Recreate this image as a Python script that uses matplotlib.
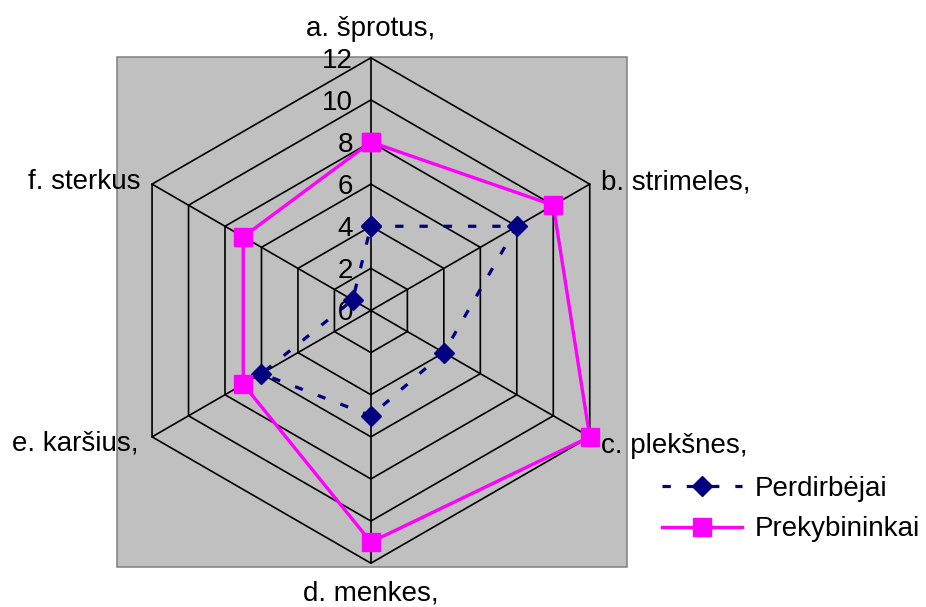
import numpy as np
import matplotlib
matplotlib.use("Agg")
import matplotlib.pyplot as plt
from matplotlib.patches import Rectangle

plt.rcParams['font.family'] = ['Liberation Sans', 'DejaVu Sans']

categories = ['a. šprotus,', 'b. strimeles,', 'c. plekšnes,', 'd. menkes,', 'e. karšius,', 'f. sterkus']
perdirbejai = [4, 8, 4, 5, 6, 1]
prekybininkai = [8, 10, 12, 11, 7, 7]
series_names = ['Perdirbėjai', 'Prekybininkai']
r_ticks = [0, 2, 4, 6, 8, 10, 12]

W, H = 926, 607
fig = plt.figure(figsize=(W / 100, H / 100), dpi=100)

# gray plot area
fig.add_artist(Rectangle((116.7 / W, (H - 566.7) / H), 510.3 / W, 510 / H,
                         transform=fig.transFigure, facecolor='#C0C0C0',
                         edgecolor='#808080', lw=1.1, zorder=-1))

cx, cy, R = 370.9, 310.5, 252.7
ax = fig.add_axes([(cx - R) / W, (H - cy - R) / H, 2 * R / W, 2 * R / H],
                  projection='polar')
ax.set_theta_zero_location('N')
ax.set_theta_direction(-1)
ax.set_ylim(0, 12)
ax.grid(False)
ax.set_xticks([])
ax.set_yticks([])
ax.spines['polar'].set_visible(False)
ax.patch.set_alpha(0)

n = len(categories)
theta = np.linspace(0, 2 * np.pi, n, endpoint=False)
theta_c = np.append(theta, theta[0])

# hexagonal grid
for r in r_ticks[1:]:
    ax.plot(theta_c, [r] * (n + 1), color='black', lw=1.2, clip_on=False, zorder=1)
for t in theta:
    ax.plot([t, t], [0, 12], color='black', lw=1.2, clip_on=False, zorder=1)

# radial labels
for r in r_ticks:
    ax.annotate(str(r), xy=(0, r), xytext=(-18, -10), textcoords='offset pixels',
                ha='right', va='baseline', fontsize=20, zorder=2)

# category labels
offsets = [(0, 22, 'center'), (11, -5.6, 'left'), (11.7, -16.6, 'left'),
           (0, -37.5, 'center'), (-13.7, -13.3, 'right'), (-11.7, -5, 'right')]
for t, lab, (dx, dy, ha) in zip(theta, categories, offsets):
    ax.annotate(lab, xy=(t, 12), xytext=(dx, dy), textcoords='offset pixels',
                ha=ha, va='baseline', fontsize=20, annotation_clip=False)

v1 = np.append(perdirbejai, perdirbejai[0])
v2 = np.append(prekybininkai, prekybininkai[0])
l1, = ax.plot(theta_c, v1, color='#000080', lw=2.3, linestyle=(0, (2.6, 5.0)),
              marker='D', ms=10.5, mec='#000080', mfc='#000080',
              clip_on=False, zorder=3, label=series_names[0])
l2, = ax.plot(theta_c, v2, color='#FF00FF', lw=2.4, linestyle='-',
              marker='s', ms=13.5, mec='#FF00FF', mfc='#FF00FF',
              clip_on=False, zorder=4, label=series_names[1])

fig.legend(handles=[l1, l2], loc='center left',
           bbox_to_anchor=(648 / W, (H - 509) / H), frameon=False,
           fontsize=20, handlelength=2.9, handletextpad=0.45,
           labelspacing=0.54, borderpad=0, numpoints=1)

fig.savefig('out.png', dpi=100)
